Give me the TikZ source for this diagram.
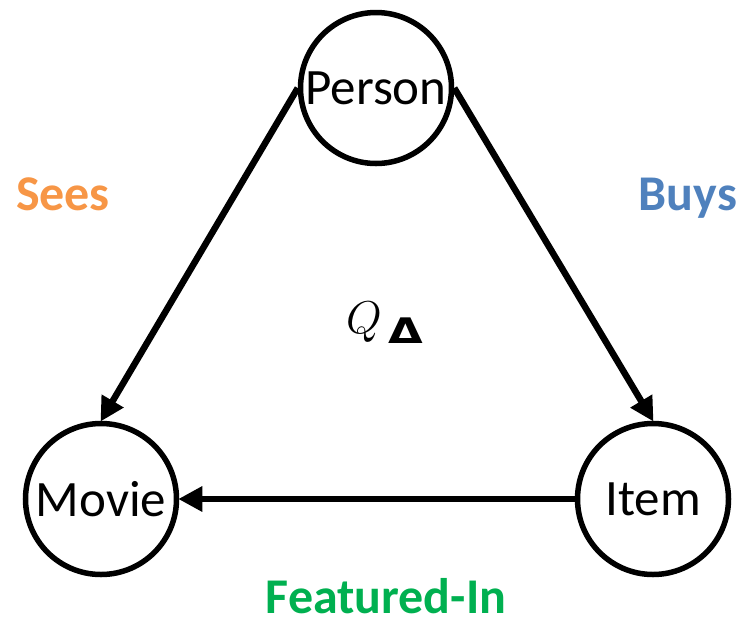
\RequirePackage{fix-cm}
\documentclass[tikz,border=0pt]{standalone}
\usepackage{fontspec}
\setmainfont{Carlito}
\newfontfamily\dvsans{DejaVu Sans}
\usetikzlibrary{arrows.meta}
\definecolor{seesc}{HTML}{F79646}
\definecolor{buysc}{HTML}{4F81BD}
\definecolor{featc}{HTML}{00B050}
\tikzset{
  entity/.style={circle, draw=black, line width=5.5pt, minimum size=151pt, inner sep=0pt,
    font=\fontsize{51}{60}\selectfont},
  rel/.style={line width=6.5pt, -{Triangle[length=24pt,width=24pt]}, shorten >=-1pt},
  rlabel/.style={font=\fontsize{50}{60}\selectfont\bfseries, inner sep=0pt, anchor=base},
}
\begin{document}
\begin{tikzpicture}[x=1pt,y=-1pt]
\useasboundingbox (0,0) rectangle (739,622);
\node[entity] (person) at (376,88) {Person};
\node[entity] (movie) at (101,499) {Movie};
\node[entity] (item) at (653,499) {Item};
\draw[rel] (person.west) -- (movie.north);
\draw[rel] (person.east) -- (item.north);
\draw[rel] (item.west) -- (movie.east);
\node[rlabel, text=seesc] (sees) at (63,210) {Sees};
\node[rlabel, text=buysc] (buys) at (688,210) {Buys};
\node[rlabel, text=featc] (feat) at (386,613) {Featured-In};
\node[inner sep=0pt, anchor=base west] (q) at (346,333) {\fontsize{46}{55}\selectfont $Q$};
\node[inner sep=0pt, anchor=base west] (qd) at (388,343) {\scalebox{1.4}[1.1]{\dvsans\bfseries\fontsize{32}{38}\selectfont Δ}};
\end{tikzpicture}
\end{document}
